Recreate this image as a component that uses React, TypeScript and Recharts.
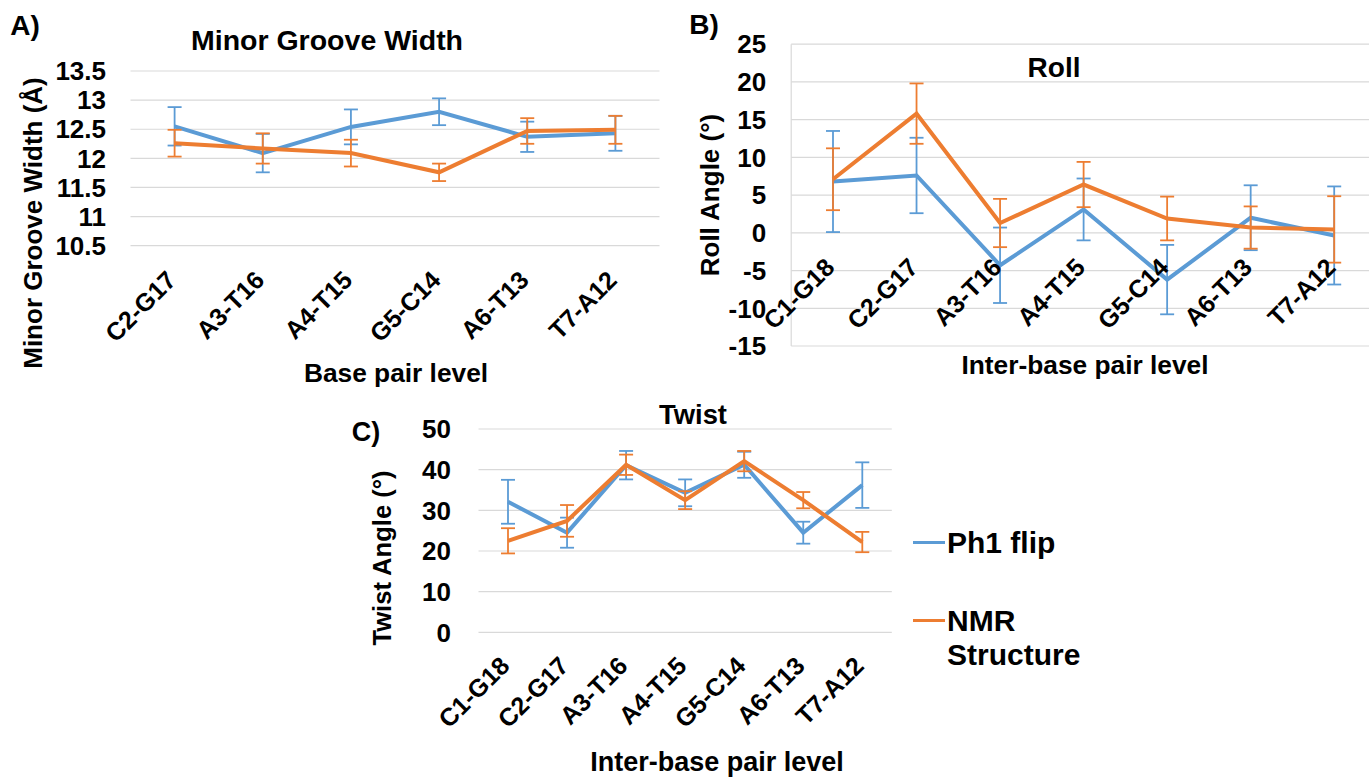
import React from 'react';
import { LineChart, Line, XAxis, YAxis, CartesianGrid, ErrorBar } from 'recharts';

const FONT = '"Liberation Sans", Arial, sans-serif';
const BLUE = '#5b9bd5';
const ORANGE = '#ed7d31';
const GRID = '#d9d9d9';

const seriesNames = ['Ph1 flip', 'NMR Structure'];

// A) minor groove width, one value per base pair
const mgwPairs = ['C2-G17', 'A3-T16', 'A4-T15', 'G5-C14', 'A6-T13', 'T7-A12'];
const mgwPh1 = [12.55, 12.09, 12.54, 12.8, 12.37, 12.43];
const mgwPh1Err = [0.33, 0.33, 0.3, 0.23, 0.26, 0.3];
const mgwNmr = [12.26, 12.17, 12.09, 11.76, 12.47, 12.49];
const mgwNmrErr = [0.23, 0.26, 0.23, 0.15, 0.22, 0.24];
const mgwTicks = [10.5, 11, 11.5, 12, 12.5, 13, 13.5];

// B) and C) use inter-base pair steps
const stepPairs = ['C1-G18', 'C2-G17', 'A3-T16', 'A4-T15', 'G5-C14', 'A6-T13', 'T7-A12'];
const rollPh1 = [6.8, 7.6, -4.3, 3.1, -6.2, 2.0, -0.35];
const rollPh1Err = [6.7, 5.0, 5.0, 4.1, 4.6, 4.3, 6.5];
const rollNmr = [7.1, 15.8, 1.3, 6.4, 1.9, 0.7, 0.45];
const rollNmrErr = [4.1, 4.0, 3.2, 3.0, 2.9, 2.8, 4.4];
const rollTicks = [-15, -10, -5, 0, 5, 10, 15, 20, 25];

const twistPh1 = [32.1, 24.5, 41.1, 34.3, 41.2, 24.5, 36.2];
const twistPh1Err = [5.4, 3.7, 3.5, 3.3, 3.2, 2.7, 5.6];
const twistNmr = [22.5, 27.4, 41.2, 32.5, 42.1, 32.5, 22.2];
const twistNmrErr = [3.1, 3.9, 2.5, 2.2, 2.5, 2.0, 2.5];
const twistTicks = [0, 10, 20, 30, 40, 50];

const build = (pairs: string[], a: number[], aErr: number[], b: number[], bErr: number[]) =>
  pairs.map((pair, i) => ({ pair, ph1: a[i], ph1Err: aErr[i], nmr: b[i], nmrErr: bErr[i] }));

const RotTick = (props: any) => {
  const { x, y, payload, shift, fontSize } = props;
  return (
    <g transform={`translate(${x + 3},${y - shift})`}>
      <text textAnchor="end" transform="rotate(-45)" fontFamily={FONT} fontWeight={700} fontSize={fontSize} fill="#000">
        {payload.value}
      </text>
    </g>
  );
};

const Label = ({ text, x, y, size, vertical }: any) => (
  <div
    style={{
      position: 'absolute',
      left: x,
      top: y,
      transform: `translate(-50%,-50%)${vertical ? ' rotate(-90deg)' : ''}`,
      whiteSpace: 'nowrap',
      fontFamily: FONT,
      fontWeight: 700,
      fontSize: size,
      lineHeight: 1,
      color: '#000',
    }}
  >
    {text}
  </div>
);

const Panel = (p: any) => {
  const plotH = p.height - p.top - p.xAxisHeight;
  // labels of B sit next to the zero line instead of the bottom edge
  const shift = p.labelsAtZero ? (plotH * (0 - p.ticks[0])) / (p.ticks[p.ticks.length - 1] - p.ticks[0]) : 0;
  return (
    <div style={{ position: 'absolute', left: p.left, top: p.pageTop, width: p.width, height: p.height }}>
      <LineChart width={p.width} height={p.height} data={p.data} margin={{ top: p.top, right: p.right, left: 0, bottom: 0 }}>
        <CartesianGrid vertical={false} stroke={GRID} strokeWidth={1.2} />
        <XAxis
          dataKey="pair"
          height={p.xAxisHeight}
          padding={{ left: p.pad, right: p.pad }}
          axisLine={false}
          tickLine={false}
          tickSize={0}
          tickMargin={p.xTickMargin}
          interval={0}
          tick={(t: any) => <RotTick {...t} shift={shift} fontSize={25} />}
        />
        <YAxis
          width={p.yAxisWidth}
          domain={[p.ticks[0], p.ticks[p.ticks.length - 1]]}
          ticks={p.ticks}
          interval={0}
          axisLine={p.leftBorder ? { stroke: GRID, strokeWidth: 1.2 } : false}
          tickLine={false}
          tickSize={0}
          tickMargin={p.yTickMargin}
          tick={{ fill: '#000', fontSize: 26, fontWeight: 700, fontFamily: FONT }}
        />
        <Line type="linear" dataKey="ph1" name={seriesNames[0]} stroke={BLUE} strokeWidth={4} dot={false} isAnimationActive={false}>
          <ErrorBar dataKey="ph1Err" width={7} stroke={BLUE} strokeWidth={1.8} isAnimationActive={false} />
        </Line>
        <Line type="linear" dataKey="nmr" name={seriesNames[1]} stroke={ORANGE} strokeWidth={4} dot={false} isAnimationActive={false}>
          <ErrorBar dataKey="nmrErr" width={7} stroke={ORANGE} strokeWidth={1.8} isAnimationActive={false} />
        </Line>
      </LineChart>
      {p.labels.map((l: any, i: number) => (
        <Label key={i} {...l} />
      ))}
    </div>
  );
};

const App: React.FC = () => {
  const mgwData = build(mgwPairs, mgwPh1, mgwPh1Err, mgwNmr, mgwNmrErr);
  const rollData = build(stepPairs, rollPh1, rollPh1Err, rollNmr, rollNmrErr);
  const twistData = build(stepPairs, twistPh1, twistPh1Err, twistNmr, twistNmrErr);

  return (
    <div style={{ position: 'absolute', left: 0, top: 0, width: 1369, height: 780, overflow: 'hidden', background: '#fff' }}>
      <Panel
        data={mgwData}
        left={0}
        pageTop={0}
        width={670}
        height={390}
        top={71}
        right={10.5}
        xAxisHeight={144.3}
        yAxisWidth={130.5}
        pad={44.1}
        ticks={mgwTicks}
        xTickMargin={36}
        yTickMargin={24.5}
        labels={[
          { text: 'A)', x: 25, y: 26, size: 28 },
          { text: 'Minor Groove Width', x: 327, y: 40, size: 28.5 },
          { text: 'Minor Groove Width (Å)', x: 32.5, y: 223, size: 26 },
          { text: 'Base pair level', x: 396, y: 373, size: 26.3 },
        ].map((l, i) => (i === 2 ? { ...l, vertical: true } : l))}
      />
      <Panel
        data={rollData}
        left={680}
        pageTop={0}
        width={696}
        height={390}
        top={44.2}
        right={0}
        xAxisHeight={44}
        yAxisWidth={111.2}
        pad={41.8}
        ticks={rollTicks}
        xTickMargin={36}
        yTickMargin={25}
        leftBorder
        labelsAtZero
        labels={[
          { text: 'B)', x: 24, y: 25, size: 28 },
          { text: 'Roll', x: 374, y: 68, size: 28 },
          { text: 'Roll Angle (°)', x: 30, y: 195, size: 26, vertical: true },
          { text: 'Inter-base pair level', x: 405, y: 365, size: 26.3 },
        ]}
      />
      <Panel
        data={twistData}
        left={340}
        pageTop={390}
        width={560}
        height={390}
        top={39}
        right={8.2}
        xAxisHeight={147.7}
        yAxisWidth={138.5}
        pad={29.5}
        ticks={twistTicks}
        xTickMargin={35}
        yTickMargin={27.5}
        labels={[
          { text: 'C)', x: 26, y: 42, size: 27 },
          { text: 'Twist', x: 353, y: 25, size: 27.4 },
          { text: 'Twist Angle (°)', x: 42.5, y: 167.5, size: 25.6, vertical: true },
          { text: 'Inter-base pair level', x: 377, y: 372, size: 27 },
        ]}
      />
      {/* legend for all three panels */}
      {seriesNames.map((name, i) => (
        <div key={name} style={{ position: 'absolute', left: 913, top: 526 + i * 78, width: 190 }}>
          <span
            style={{
              position: 'absolute',
              left: 0,
              top: 15,
              width: 32,
              height: 3,
              background: i === 0 ? BLUE : ORANGE,
            }}
          />
          <div
            style={{
              marginLeft: 34,
              width: 150,
              fontFamily: FONT,
              fontWeight: 700,
              fontSize: 30,
              lineHeight: '34px',
              color: '#000',
            }}
          >
            {name}
          </div>
        </div>
      ))}
    </div>
  );
};

export default App;
